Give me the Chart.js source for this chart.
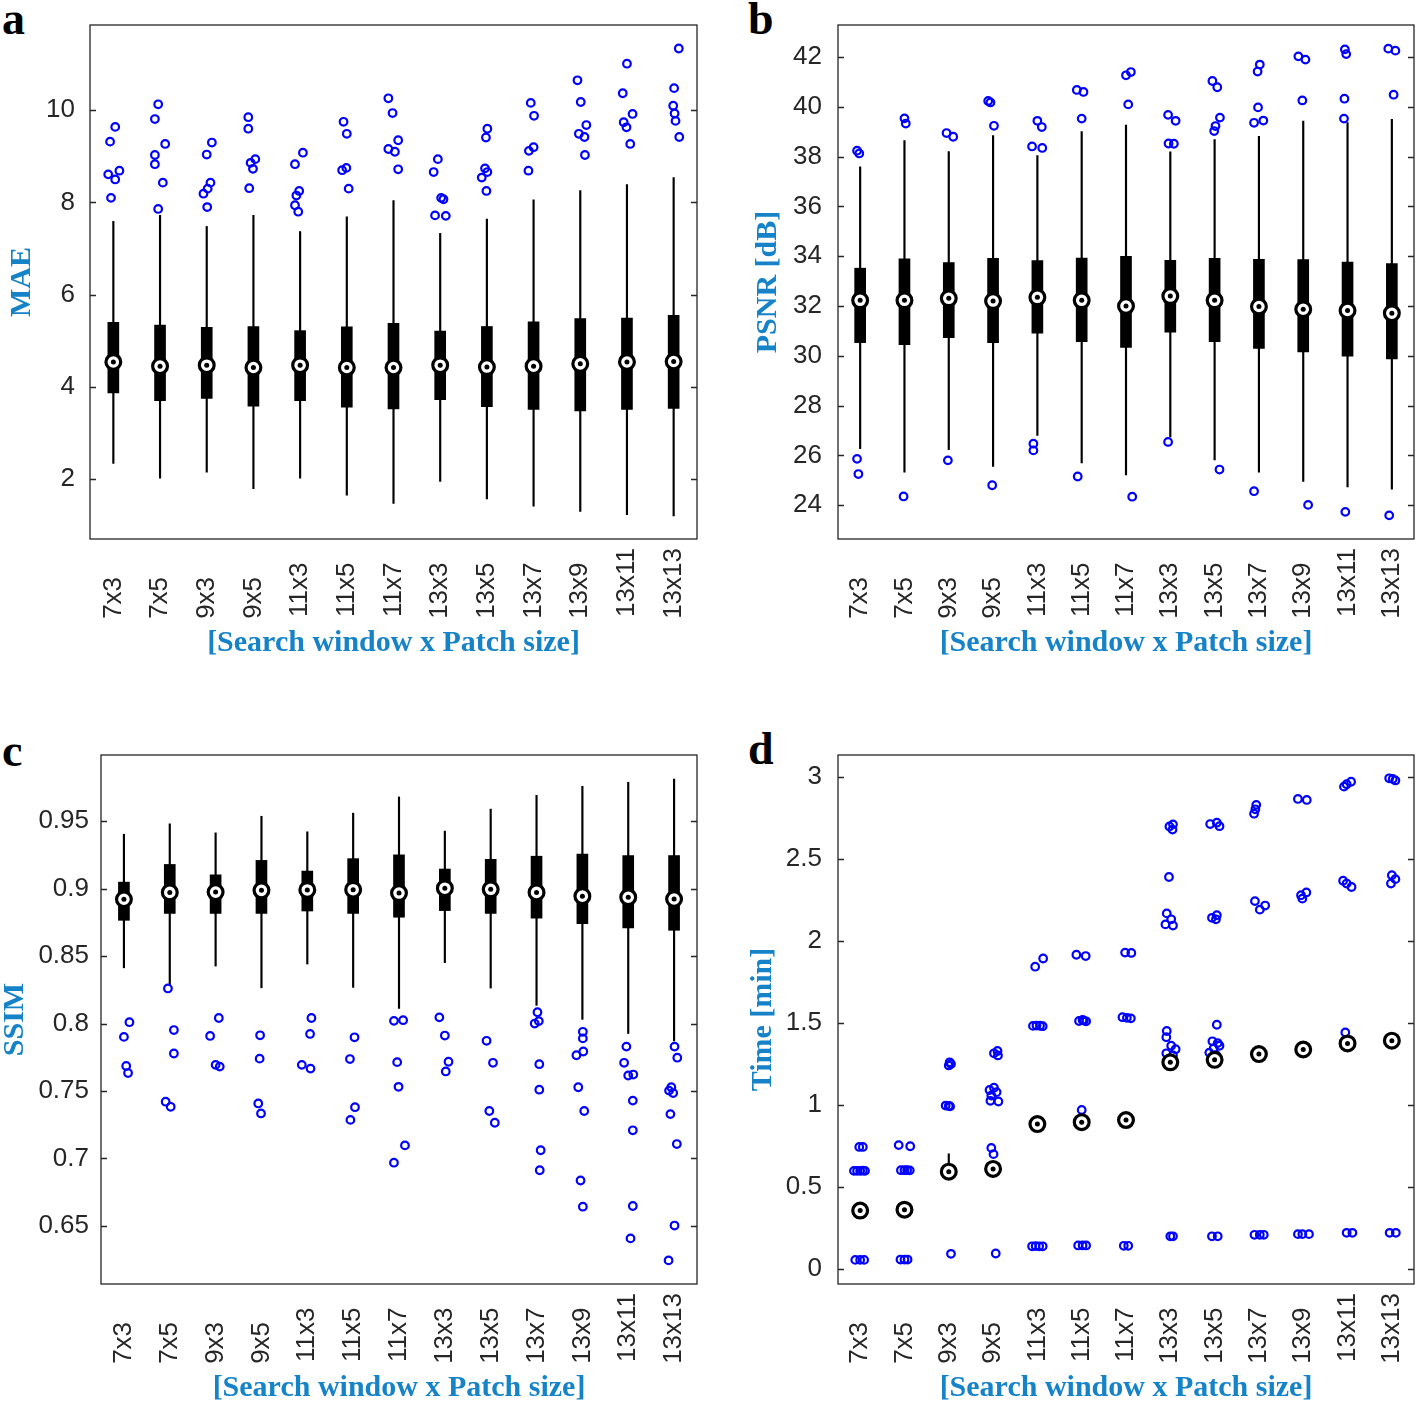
<!DOCTYPE html>
<html>
<head>
<meta charset="utf-8">
<script src="https://cdn.jsdelivr.net/npm/chart.js@4.4.0/dist/chart.umd.min.js"></script>
<style>
  html, body { margin: 0; padding: 0; background: #fff; overflow: hidden; }
  body { width: 1418px; height: 1406px; position: relative; }
  canvas { position: absolute; }
  .tag { position: absolute; font: bold 46px "Liberation Serif", serif; line-height: 1; color: #000; }
</style>
</head>
<body>
<div class="tag" style="left:2px;top:-4px">a</div>
<div class="tag" style="left:748px;top:-4px">b</div>
<div class="tag" style="left:2px;top:728px">c</div>
<div class="tag" style="left:748px;top:726px">d</div>
<canvas id="maeChart" width="717" height="700" style="left:0;top:0"></canvas>
<canvas id="psnrChart" width="694" height="700" style="left:740px;top:0"></canvas>
<canvas id="ssimChart" width="717" height="676" style="left:0;top:730px"></canvas>
<canvas id="timeChart" width="694" height="676" style="left:740px;top:730px"></canvas>
<script>
// Categorias (janela de busca x tamanho do patch)
const windowPatch = ["7x3", "7x5", "9x3", "9x5", "11x3", "11x5", "11x7", "13x3", "13x5", "13x7", "13x9", "13x11", "13x13"];

// MAE
const maeLow = [2.34, 2.02, 2.15, 1.79, 2.02, 1.65, 1.47, 1.95, 1.57, 1.41, 1.30, 1.23, 1.20];
const maeQ1 = [3.87, 3.70, 3.75, 3.58, 3.70, 3.56, 3.52, 3.72, 3.57, 3.51, 3.48, 3.51, 3.53];
const maeMedian = [4.54, 4.45, 4.47, 4.42, 4.47, 4.42, 4.42, 4.47, 4.43, 4.45, 4.50, 4.54, 4.55];
const maeQ3 = [5.40, 5.34, 5.29, 5.31, 5.22, 5.30, 5.38, 5.21, 5.31, 5.41, 5.48, 5.49, 5.55];
const maeHigh = [7.59, 7.72, 7.48, 7.72, 7.37, 7.69, 8.04, 7.33, 7.64, 8.06, 8.26, 8.39, 8.54];
// outliers: [valor, deslocamento horizontal (jitter) em unidades de categoria]
const maeOutliers = [
	[[9.64, 0.04], [9.32, -0.07], [8.69, 0.13], [8.61, -0.11], [8.50, 0.04], [8.10, -0.05]],
	[[10.13, -0.04], [9.81, -0.11], [9.27, 0.11], [9.03, -0.11], [8.83, -0.11], [8.43, 0.06], [7.86, -0.04]],
	[[9.30, 0.11], [9.04, 0], [8.43, 0.08], [8.30, 0.02], [8.19, -0.07], [7.90, 0.01]],
	[[9.85, -0.11], [9.60, -0.11], [8.94, 0.04], [8.86, -0.06], [8.73, -0.01], [8.31, -0.09]],
	[[9.08, 0.06], [8.83, -0.11], [8.25, -0.02], [8.15, -0.08], [7.94, -0.11], [7.80, -0.04]],
	[[9.75, -0.07], [9.49, 0], [8.75, -0.01], [8.70, -0.10], [8.30, 0.04]],
	[[10.26, -0.11], [9.94, -0.02], [9.35, 0.10], [9.16, -0.11], [9.10, 0.03], [8.72, 0.10]],
	[[8.94, -0.05], [8.66, -0.14], [8.10, 0.02], [8.07, 0.07], [7.72, -0.11], [7.71, 0.12]],
	[[9.60, 0.01], [9.41, -0.02], [8.74, -0.04], [8.66, 0.01], [8.54, -0.11], [8.25, -0.01]],
	[[10.16, -0.06], [9.88, 0.01], [9.20, 0], [9.12, -0.10], [8.69, -0.11]],
	[[10.65, -0.06], [10.18, 0.01], [9.68, 0.13], [9.49, -0.03], [9.42, 0.09], [9.03, 0.10]],
	[[11.01, 0], [10.37, -0.09], [9.92, 0.12], [9.74, -0.07], [9.63, -0.01], [9.27, 0.07]],
	[[11.34, 0.11], [10.48, 0.01], [10.10, -0.01], [9.93, 0.02], [9.77, 0.04], [9.42, 0.12]],
];

// PSNR
const psnrLow = [26.27, 25.32, 26.23, 25.56, 26.80, 25.70, 25.21, 26.74, 25.82, 25.32, 24.95, 24.73, 24.64];
const psnrQ1 = [30.53, 30.45, 30.73, 30.53, 30.91, 30.57, 30.34, 30.95, 30.57, 30.30, 30.16, 29.99, 29.87];
const psnrMedian = [32.23, 32.23, 32.31, 32.20, 32.35, 32.23, 32.00, 32.40, 32.23, 31.98, 31.87, 31.82, 31.71];
const psnrQ3 = [33.52, 33.90, 33.75, 33.92, 33.83, 33.93, 34.00, 33.84, 33.92, 33.88, 33.87, 33.77, 33.71];
const psnrHigh = [37.59, 38.65, 38.20, 38.85, 38.04, 39.01, 39.27, 38.19, 38.69, 38.82, 39.43, 39.37, 39.50];
const psnrOutliers = [
	[[38.24, -0.07], [38.13, -0.02], [25.86, -0.07], [25.25, -0.04]],
	[[39.54, 0], [39.33, 0.03], [24.35, -0.02]],
	[[38.95, -0.05], [38.80, 0.10], [25.80, -0.02]],
	[[40.24, -0.11], [40.18, -0.06], [39.24, 0.02], [24.80, -0.02]],
	[[39.44, 0], [39.19, 0.10], [38.41, -0.12], [38.35, 0.11], [26.47, -0.09], [26.20, -0.09]],
	[[40.68, -0.11], [40.60, 0.04], [39.53, 0], [25.15, -0.09]],
	[[41.40, 0.11], [41.27, 0], [40.10, 0.05], [24.34, 0.14]],
	[[39.68, -0.05], [39.44, 0.12], [38.53, -0.04], [38.52, 0.08], [26.54, -0.05]],
	[[41.04, -0.05], [40.79, 0.06], [39.57, 0.12], [39.23, 0.02], [39.03, -0.01], [25.43, 0.11]],
	[[41.70, 0.02], [41.42, -0.03], [39.98, -0.02], [39.45, 0.10], [39.36, -0.11], [24.56, -0.11]],
	[[42.03, -0.11], [41.90, 0.05], [40.26, -0.02], [24.01, 0.11]],
	[[42.31, -0.06], [42.12, -0.03], [40.33, -0.07], [39.53, -0.08], [23.73, -0.05]],
	[[42.34, -0.08], [42.26, 0.08], [40.49, 0.04], [23.59, -0.06]],
];

// SSIM
const ssimLow = [0.8413, 0.8286, 0.8426, 0.8265, 0.8441, 0.8268, 0.8112, 0.8451, 0.8263, 0.8135, 0.8031, 0.7926, 0.7872];
const ssimQ1 = [0.8765, 0.8816, 0.8816, 0.8816, 0.8834, 0.8816, 0.8788, 0.8837, 0.8816, 0.8781, 0.8740, 0.8709, 0.8691];
const ssimMedian = [0.8921, 0.8972, 0.8974, 0.8987, 0.8990, 0.8992, 0.8967, 0.9003, 0.8995, 0.8972, 0.8944, 0.8936, 0.8923];
const ssimQ3 = [0.9048, 0.9179, 0.9102, 0.9209, 0.9130, 0.9222, 0.9250, 0.9145, 0.9217, 0.9240, 0.9255, 0.9245, 0.9245];
const ssimHigh = [0.9403, 0.9480, 0.9413, 0.9536, 0.9421, 0.9559, 0.9679, 0.9426, 0.9589, 0.9691, 0.9758, 0.9788, 0.9811];
const ssimOutliers = [
	[[0.8010, 0.12], [0.7901, 0], [0.7686, 0.05], [0.7633, 0.09]],
	[[0.8260, -0.04], [0.7952, 0.09], [0.7778, 0.09], [0.7421, -0.09], [0.7383, 0.02]],
	[[0.8041, 0.07], [0.7908, -0.12], [0.7694, 0], [0.7681, 0.09]],
	[[0.7913, -0.03], [0.7740, -0.04], [0.7408, -0.07], [0.7334, -0.01]],
	[[0.8041, 0.09], [0.7923, 0.06], [0.7694, -0.12], [0.7666, 0.07]],
	[[0.7898, 0.03], [0.7737, -0.07], [0.7380, 0.04], [0.7286, -0.06]],
	[[0.8025, 0.09], [0.8020, -0.11], [0.7714, -0.04], [0.7531, -0.01], [0.7097, 0.13], [0.6969, -0.11]],
	[[0.8046, -0.12], [0.7911, 0], [0.7717, 0.08], [0.7645, 0.02]],
	[[0.7872, -0.09], [0.7709, 0.05], [0.7352, -0.03], [0.7265, 0.09]],
	[[0.8084, 0.02], [0.8018, 0.05], [0.8000, -0.04], [0.7699, 0.06], [0.7510, 0.06], [0.7061, 0.09], [0.6913, 0.07]],
	[[0.7939, 0.01], [0.7890, 0.01], [0.7793, 0.02], [0.7765, -0.13], [0.7528, -0.09], [0.7352, 0.04], [0.6837, -0.04], [0.6643, 0.01]],
	[[0.7829, -0.04], [0.7709, -0.09], [0.7622, 0.11], [0.7615, 0], [0.7429, 0.10], [0.7209, 0.10], [0.6648, 0.10], [0.6408, 0.05]],
	[[0.7829, 0.01], [0.7747, 0.07], [0.7528, -0.06], [0.7503, -0.11], [0.7485, -0.02], [0.7329, -0.08], [0.7107, 0.06], [0.6503, 0.01], [0.6245, -0.12]],
];

// Tempo [min]
const timeLow = [0.358, 0.363, 0.595, 0.612, 0.885, 0.897, 0.910, 1.262, 1.277, 1.312, 1.340, 1.377, 1.394];
const timeQ1 = [0.358, 0.363, 0.595, 0.612, 0.885, 0.897, 0.910, 1.262, 1.277, 1.312, 1.340, 1.377, 1.394];
const timeMedian = [0.358, 0.363, 0.595, 0.612, 0.885, 0.897, 0.910, 1.262, 1.277, 1.312, 1.340, 1.377, 1.394];
const timeQ3 = [0.358, 0.363, 0.595, 0.612, 0.885, 0.897, 0.910, 1.262, 1.277, 1.312, 1.340, 1.377, 1.394];
const timeHigh = [0.358, 0.363, 0.704, 0.612, 0.885, 0.897, 0.910, 1.262, 1.277, 1.312, 1.340, 1.377, 1.394];
const timeOutliers = [
	[[0.746, -0.02], [0.746, 0.06], [0.600, -0.14], [0.600, -0.07], [0.600, 0], [0.601, 0.06], [0.600, 0.11], [0.057, -0.11], [0.057, 0], [0.057, 0.09]],
	[[0.757, -0.13], [0.750, 0.13], [0.604, -0.08], [0.604, 0], [0.604, 0.06], [0.603, 0.12], [0.059, -0.09], [0.059, 0], [0.059, 0.07]],
	[[1.262, 0.02], [1.252, 0.05], [1.243, 0], [0.998, -0.07], [0.996, 0], [0.993, 0.03], [0.094, 0.05]],
	[[1.331, 0.10], [1.317, 0.02], [1.304, 0.11], [1.107, 0.02], [1.093, -0.08], [1.080, 0.08], [1.059, -0.04], [1.027, -0.06], [1.023, 0.12], [0.740, -0.04], [0.702, 0.01], [0.096, 0.06]],
	[[1.895, 0.13], [1.845, -0.05], [1.484, -0.10], [1.486, -0.02], [1.485, 0.06], [1.482, 0.12], [0.140, -0.12], [0.141, -0.04], [0.140, 0.04], [0.140, 0.12]],
	[[1.918, -0.12], [1.910, 0.09], [1.514, -0.06], [1.520, 0.02], [1.512, 0.10], [1.516, 0.05], [0.971, 0], [0.145, -0.08], [0.145, 0.02], [0.145, 0.10]],
	[[1.931, -0.02], [1.929, 0.12], [1.537, -0.08], [1.533, 0.02], [1.530, 0.11], [0.143, -0.05], [0.143, 0.05]],
	[[2.713, 0.06], [2.700, -0.02], [2.681, 0.05], [2.392, -0.03], [2.170, -0.08], [2.134, 0.02], [2.103, -0.11], [2.096, 0.06], [1.453, -0.08], [1.415, -0.09], [1.363, 0.02], [1.342, 0.12], [1.317, -0.09], [1.304, 0.06], [0.201, 0], [0.201, 0.06]],
	[[2.723, 0.05], [2.715, -0.10], [2.702, 0.11], [2.159, 0.05], [2.143, -0.06], [2.134, 0.03], [1.491, 0.05], [1.390, -0.05], [1.379, 0.07], [1.363, 0.11], [1.348, -0.02], [1.321, -0.12], [1.306, 0.03], [0.201, -0.06], [0.201, 0.07]],
	[[2.832, -0.06], [2.805, -0.08], [2.778, -0.11], [2.245, -0.09], [2.218, 0.14], [2.193, 0.02], [0.210, -0.10], [0.210, 0.02], [0.210, 0.11]],
	[[2.868, -0.12], [2.862, 0.08], [2.298, 0.07], [2.281, -0.05], [2.260, -0.02], [0.214, -0.12], [0.214, -0.02], [0.214, 0.13]],
	[[2.973, 0.08], [2.958, -0.02], [2.943, -0.08], [2.369, -0.10], [2.352, -0.02], [2.331, 0.09], [1.444, -0.05], [0.222, -0.02], [0.222, 0.11]],
	[[2.994, -0.06], [2.981, 0.08], [2.990, 0.02], [2.403, 0], [2.379, 0.08], [2.352, -0.02], [0.222, -0.05], [0.222, 0.09]],
];

// Configurações gerais
Chart.defaults.font.family = "'Liberation Sans', Arial, sans-serif";
Chart.defaults.color = "#262626";
const titleBlue = "#1683c8";
const figSpace = "\u2007";
const noTick = "rgba(0,0,0,0)";

// Moldura do eixo com marcas internas (estilo MATLAB, box on)
const framePlugin = {
	id: "frame",
	afterDraw(chart) {
		const { ctx, chartArea: a } = chart;
		const y = chart.scales.y;
		ctx.save();
		ctx.strokeStyle = "#262626";
		ctx.lineWidth = 1.3;
		ctx.strokeRect(a.left, a.top, a.right - a.left, a.bottom - a.top);
		y.ticks.forEach((t) => {
			const py = Math.round(y.getPixelForValue(t.value)) + 0.5;
			ctx.beginPath();
			ctx.moveTo(a.left, py);
			ctx.lineTo(a.left + 6, py);
			ctx.moveTo(a.right, py);
			ctx.lineTo(a.right - 6, py);
			ctx.stroke();
		});
		ctx.restore();
	},
};

// Monta um boxplot com barras flutuantes + dispersão, tudo num eixo x linear
function boxChart(id, p) {
	const idx = windowPatch.map((c, i) => i);
	const outlierPoints = [];
	p.outliers.forEach((list, i) => {
		list.forEach((o) => outlierPoints.push({ x: i + o[1], y: o[0] }));
	});
	const medianPoints = idx.map((i) => ({ x: i, y: p.median[i] }));
	const span = (a, b) => idx.filter((i) => b[i] > a[i]).map((i) => ({ x: i, y: [a[i], b[i]] }));

	return new Chart(document.getElementById(id), {
		type: "bar",
		data: {
			datasets: [
				{
					data: span(p.low, p.high),
					backgroundColor: "#000",
					barThickness: 1.5,
					grouped: false,
					order: 5,
				},
				{
					data: span(p.q1, p.q3),
					backgroundColor: "#000",
					barThickness: 11,
					grouped: false,
					order: 4,
				},
				{
					type: "scatter",
					data: outlierPoints,
					pointRadius: 3.8,
					borderWidth: 2.2,
					borderColor: "#0000ff",
					backgroundColor: "rgba(0,0,0,0)",
					order: 3,
				},
				{
					type: "scatter",
					data: medianPoints,
					pointRadius: 7.4,
					borderWidth: 3.2,
					borderColor: "#000",
					backgroundColor: "#fff",
					order: 2,
				},
				{
					type: "scatter",
					data: medianPoints,
					pointRadius: 2.5,
					borderWidth: 0,
					backgroundColor: "#000",
					order: 1,
				},
			],
		},
		options: {
			responsive: false,
			animation: false,
			layout: { padding: { top: 25, right: 20, left: 0, bottom: 0 } },
			plugins: { legend: { display: false }, tooltip: { enabled: false } },
			scales: {
				x: {
					type: "linear",
					min: -0.5,
					max: 12.5,
					offset: false,
					grid: { display: true, drawOnChartArea: false, drawTicks: true, tickLength: 9, tickColor: noTick, color: noTick },
					border: { display: false },
					afterBuildTicks: (s) => {
						s.ticks = idx.map((i) => ({ value: i }));
					},
					ticks: {
						autoSkip: false,
						minRotation: 90,
						maxRotation: 90,
						padding: 0,
						font: { size: 26 },
						callback: (v) => windowPatch[v] + figSpace.repeat(5 - windowPatch[v].length),
					},
					title: {
						display: true,
						text: "[Search window x Patch size]",
						color: titleBlue,
						font: { family: "'Liberation Serif', serif", size: 30, weight: "bold", lineHeight: 1 },
						padding: { top: 0, bottom: p.xTitlePad },
					},
					afterFit: (s) => {
						s.height = p.xHeight;
					},
				},
				y: {
					type: "linear",
					min: p.min,
					max: p.max,
					grid: { display: true, drawOnChartArea: false, drawTicks: true, tickLength: p.tickPad, tickColor: noTick, color: noTick },
					border: { display: false },
					ticks: {
						stepSize: p.step,
						includeBounds: false,
						padding: 0,
						font: { size: 26 },
						callback: (v) => String(+v.toFixed(4)),
					},
					title: {
						display: true,
						text: p.title,
						color: titleBlue,
						font: { family: "'Liberation Serif', serif", size: 30, weight: "bold", lineHeight: 1 },
						padding: { top: p.yTitlePad, bottom: 0 },
					},
					afterFit: (s) => {
						s.width = p.yWidth;
					},
				},
			},
		},
		plugins: [framePlugin],
	});
}

boxChart("maeChart", {
	low: maeLow, q1: maeQ1, median: maeMedian, q3: maeQ3, high: maeHigh, outliers: maeOutliers,
	min: 0.7, max: 11.85, step: 2, title: "MAE",
	yWidth: 90, xHeight: 161, tickPad: 15, yTitlePad: 7, xTitlePad: 42,
});

boxChart("psnrChart", {
	low: psnrLow, q1: psnrQ1, median: psnrMedian, q3: psnrQ3, high: psnrHigh, outliers: psnrOutliers,
	min: 22.64, max: 43.29, step: 2, title: "PSNR [dB]",
	yWidth: 98, xHeight: 161, tickPad: 16, yTitlePad: 13, xTitlePad: 42,
});

boxChart("ssimChart", {
	low: ssimLow, q1: ssimQ1, median: ssimMedian, q3: ssimQ3, high: ssimHigh, outliers: ssimOutliers,
	min: 0.607, max: 0.999, step: 0.05, title: "SSIM",
	yWidth: 101, xHeight: 122, tickPad: 12, yTitlePad: 0, xTitlePad: 3,
});

boxChart("timeChart", {
	low: timeLow, q1: timeQ1, median: timeMedian, q3: timeQ3, high: timeHigh, outliers: timeOutliers,
	min: -0.09, max: 3.136, step: 0.5, title: "Time [min]",
	yWidth: 98, xHeight: 122, tickPad: 16, yTitlePad: 8, xTitlePad: 3,
});
</script>
</body>
</html>
